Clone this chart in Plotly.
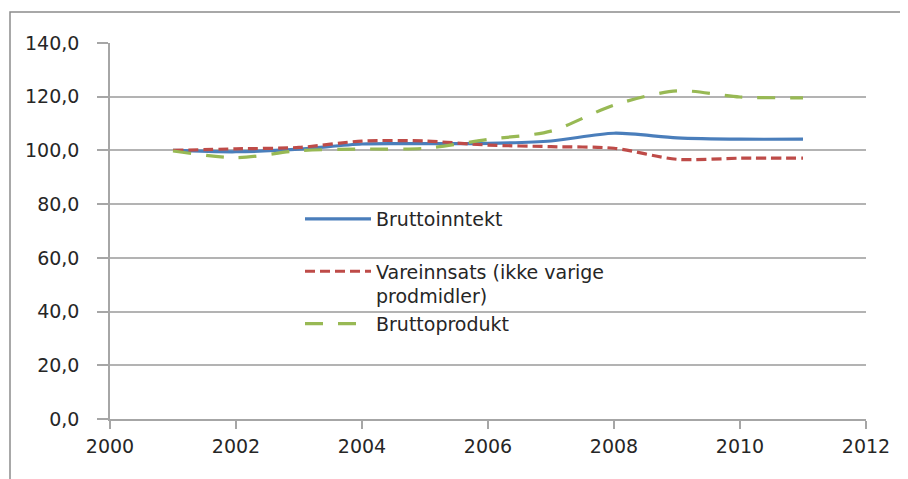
import plotly.graph_objects as go

years = [2001, 2002, 2003, 2004, 2005, 2006, 2007, 2008, 2009, 2010, 2011]
bruttoinntekt = [100.0, 99.5, 100.5, 102.4, 102.5, 102.6, 103.5, 106.4, 104.7, 104.2, 104.2]
vareinnsats = [100.0, 100.6, 101.1, 103.5, 103.5, 102.0, 101.4, 100.8, 96.7, 97.1, 97.1]
bruttoprodukt = [99.8, 97.3, 99.9, 100.5, 100.8, 104.1, 107.2, 116.9, 122.2, 119.9, 119.6]

names = ["Bruttoinntekt<br>&nbsp;", "Vareinnsats (ikke varige<br>prodmidler)", "Bruttoprodukt"]
x_ticks = [2000, 2002, 2004, 2006, 2008, 2010, 2012]
y_ticks = [0, 20, 40, 60, 80, 100, 120, 140]

FONT = "DejaVu Sans"
TXT = "#262626"
OFF = 8  # page body offset

L, T = 110 - OFF, 43 - OFF
PW, PH = 756, 376

def px_x(p):
    return (p - OFF - L) / PW

def px_y(p):
    return (T + PH - (p - OFF)) / PH

fig = go.Figure()
fig.add_trace(go.Scatter(x=years, y=bruttoinntekt, name=names[0], mode="lines",
                         line=dict(color="#4a7ebb", width=3.2, shape="spline", smoothing=0.8),
                         legendgroup="a"))
fig.add_trace(go.Scatter(x=years, y=vareinnsats, name=names[1], mode="lines",
                         line=dict(color="#be4b48", width=3.2, dash="10px,5px", shape="spline", smoothing=0.8),
                         legendgroup="b"))
fig.add_trace(go.Scatter(x=years, y=bruttoprodukt, name=names[2], mode="lines",
                         line=dict(color="#98b954", width=3.2, dash="18px,15px", shape="spline", smoothing=0.8),
                         legendgroup="c"))

fig.update_layout(
    width=908, height=479,
    margin=dict(l=L, r=908 - L - PW, t=T, b=479 - T - PH),
    paper_bgcolor="white", plot_bgcolor="white",
    font=dict(family=FONT, size=19, color=TXT),
    separators=", ",
    showlegend=True,
    legend=dict(x=px_x(300), y=px_y(200), xanchor="left", yanchor="top",
                bgcolor="rgba(0,0,0,0)", valign="top", tracegroupgap=0, itemwidth=66,
                font=dict(family=FONT, size=19, color=TXT)),
    xaxis=dict(range=[2000, 2012], tickvals=x_ticks, showgrid=False, zeroline=False,
               showline=True, linecolor="#a6a6a6", linewidth=1.5,
               ticks="outside", ticklen=8, tickcolor="#a6a6a6", tickwidth=1.5,
               ticklabelstandoff=1, tickfont=dict(family=FONT, size=19, color=TXT)),
    yaxis=dict(range=[0, 140], tickvals=y_ticks, tickformat=".1f", showgrid=True,
               gridcolor="#b3b3b3", gridwidth=1.5, zeroline=False,
               showline=True, linecolor="#a6a6a6", linewidth=1.5,
               ticks="outside", ticklen=11, tickcolor="#a6a6a6", tickwidth=1.5,
               ticklabelstandoff=14, tickfont=dict(family=FONT, size=19, color=TXT)),
    shapes=[dict(type="rect", xref="paper", yref="paper",
                 x0=px_x(10), x1=px_x(930),
                 y0=px_y(500), y1=px_y(12),
                 line=dict(color="#8c8c8c", width=1.5), layer="below")],
)

fig.write_html("out.html")
